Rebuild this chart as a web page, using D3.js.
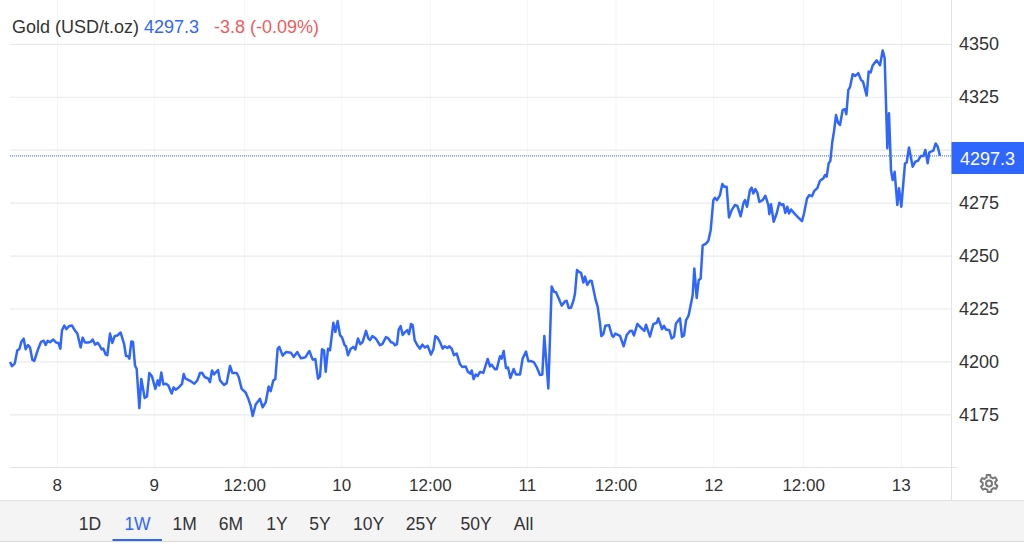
<!DOCTYPE html>
<html><head><meta charset="utf-8">
<script src="https://cdnjs.cloudflare.com/ajax/libs/d3/7.8.5/d3.min.js"></script>
<style>html,body{margin:0;padding:0;background:#fff;overflow:hidden}svg{display:block}text{font-family:"Liberation Sans",Arial,sans-serif}</style>
</head><body><svg id="c" width="1024" height="546"></svg>
<script>
// time in trading ticks since the session start, and the gold price at each tick
const times = [30,36,44,52,58,64,71,77,84,90,97,103,113,123,131,137,143,150,160,168,175,181,186,193,199,208,216,226,232,242,248,255,265,272,278,285,293,298,305,310,317,322,330,337,344,352,362,372,378,384,388,394,399,405,410,418,424,434,441,448,456,466,473,478,484,490,498,505,515,521,527,535,546,551,556,570,583,592,600,606,614,625,630,636,642,654,660,672,680,690,697,710,716,725,737,745,752,758,767,780,788,797,806,812,820,826,833,838,848,858,873,881,892,903,916,928,938,946,954,960,966,972,977,984,990,
1000,1006,1013,1020,1026,1034,1038,1044,1052,1060,1066,1074,1081,1088,1098,1105,1110,1117,1127,1140,1147,1158,1165,1173,1180,1185,1191,1196,1202,1208,1215,1222,1227,1233,1238,1244,1252,1260,1267,1275,1283,1293,1300,1306,1313,1321,1328,1334,1342,1348,1355,1362,1370,1380,1387,1397,1404,1412,1415,1421,1427,1433,1440,1450,1463,1470,1475,1485,1490,1500,1505,1511,1518,1524,1531,1541,1548,1560,1568,1578,1585,1592,1602,1610,1620,1627,1633,1645,1655,1662,1668,1676,1685,1695,1700,1706,1713,1721,1725,1731,1738,1743,1750,1755,1762,1770,1775,1787,1793,1800,1804,1810,1816,1827,1836,1840,1846,1860,1871,1880,1890,1896,1902,1912,1927,1933,1938,1950,1960,1970,1975,1986,1992,1998,2008,2015,2022,2028,2040,2046,2052,2058,2066,2078,2083,2090,2096,2102,2108,2118,2125,2132,2140,2145,2151,2160,2167,2173,2180,2187,2195,2205,2212,2222,2230,2235,2241,2250,2255,2260,2266,2272,2278,2288,2296,2305,2308,2313,2321,2330,2338,2345,2350,2356,2362,2367,2373,2385,2395,2406,2412,2421,2428,2436,2443,2452,2460,2470,2475,2480,2486,2491,2497,2502,2508,2514,2520,2528,2535,2539,2545,2550,2558,2566,2575,2583,2589,2600,2606,2612,2618,2630,2640,2648,2654,2662,2667,2673,2678,2684,2692,2697,2704,2715,2720,2727,2738,2746,2754,2762,2770,2776,2783,2788,2800,2807,2813,2820];
const prices = [4200,4198,4199.2,4205.5,4206,4209.5,4211,4206,4208,4206.8,4201,4200.5,4205.5,4209.5,4210,4208,4210,4209.3,4210.6,4209.2,4209,4206.3,4215,4217.2,4215.5,4217,4217.2,4214.6,4213.4,4206.8,4211.5,4209.2,4209.2,4209.5,4210.6,4208.2,4209,4208,4205.9,4206.3,4203.5,4203.2,4213.4,4209,4212.2,4212.5,4213.9,4208.7,4202.8,4202.7,4201.6,4209.7,4209.5,4198.3,4196.8,4178.2,4192,4183,4183.7,4194.8,4193.2,4187.3,4191.3,4188.9,4195,4189.4,4189.7,4188.9,4185.1,4188,4186.9,4187.8,4189.6,4194.3,4192.2,4191.1,4189.7,4191.3,4194.8,4194.9,4192.9,4192.1,4190.5,4196,4194.1,4196.2,4191.3,4189.1,4190,4198.1,4194.8,4194.8,4192.9,4187.3,4185.6,4182.6,4179.4,4174.5,4179.9,4182.6,4178.6,4180.9,4188.4,4186.2,4191.3,4192,4206.3,4207.1,4203,4204.7,4204.3,4202.4,4204.7,4201.7,4202.2,4205.2,4201.1,4201.4,4192.1,4193.2,4206,4205.5,4195.3,4206.2,4205.5,
4218.5,4214.2,4219.3,4212.7,4211.6,4207.9,4207.4,4203.2,4206.2,4207.1,4205.9,4211.1,4208.4,4209.5,4214.7,4211.1,4210.3,4212.2,4211.1,4207.9,4208.4,4211.7,4211.1,4209.3,4209,4207.9,4208.4,4215.3,4216.9,4212.7,4214.1,4215,4213.1,4217.9,4217.4,4210.3,4207.9,4206.3,4208.2,4206.8,4207.6,4203.5,4205.9,4212.2,4211.4,4209,4206.3,4207.4,4206.6,4207.4,4206.3,4203.2,4204,4198.9,4197.6,4197.9,4195.3,4194.5,4196,4191.9,4194.1,4193.4,4195.3,4194.9,4201.4,4197.9,4198.7,4196.5,4196.5,4202.7,4201.6,4205.2,4197.1,4197.4,4192.4,4196.7,4194.1,4194.1,4201.6,4204.9,4200.3,4200.5,4199.8,4197.6,4193.8,4194.1,4212.3,4187.5,4235.6,4233.1,4232.9,4230.1,4226.6,4228.6,4228.9,4225.5,4225.6,4229.3,4232.4,4243.4,4242.4,4242.2,4237.5,4240.3,4236.4,4238.4,4238.2,4229.3,4226.1,4218.2,4212.2,4213.1,4217.1,4217.4,4212.5,4211.9,4213.4,4212.3,4207.4,4212.7,4214.6,4214.7,4212.5,4218,4215.5,4214.7,4217.6,4212,4217.9,4218.5,4220.6,4215.5,4217.1,4215.3,4215,4211.1,4211.9,4218.2,4220.6,4211.9,4212.5,4219.6,4222,4231.5,4244.1,4230.2,4238.6,4239.4,4255.1,4255.9,4257.2,4262.2,4276.4,4277.5,4276.4,4278.8,4284,4282.7,4282.7,4268.2,4271.7,4274.1,4273.7,4268.8,4274.8,4276.4,4273.3,4281.2,4282.3,4279.6,4281.6,4280,4275.6,4276.4,4278.5,4274.1,4269.8,4274.5,4266.2,4270.1,4275.2,4274.1,4274.5,4270.4,4273.3,4270.1,4272,4269.8,4268.2,4266.5,4270.1,4277.2,4278.8,4278.3,4280.8,4282.1,4285.6,4286.7,4288.2,4287.5,4293.8,4294.9,4304,4308.8,4316.6,4313,4311.9,4319,4319.3,4317,4328.5,4329.7,4335.9,4335.1,4336.4,4333.2,4332.4,4325.8,4337.1,4336.7,4340,4342.4,4340.1,4347.1,4343.5,4300.9,4317.4,4290.6,4285.9,4289.8,4274.1,4282,4273.3,4293.8,4294.1,4301.3,4292.2,4294.6,4295,4297.2,4297.2,4300.1,4293.8,4299,4299.8,4303.2,4301.7,4297.4];

const xTickTimes = [172,463,734,1025,1291,1582,1848,2141,2411,2704];
const xTickLabels = ["8","9","12:00","10","12:00","11","12:00","12","12:00","13"];
const yTicks = [4175,4200,4225,4250,4275,4300,4325,4350];
const yTickLabels = [4175,4200,4225,4250,4275,null,4325,4350];
const lastPrice = 4297.3;
const titleName = "Gold (USD/t.oz)", titlePrice = "4297.3", titleChange = "-3.8 (-0.09%)";
const ranges = ["1D","1W","1M","6M","1Y","5Y","10Y","25Y","50Y","All"];
const rangeCenters = [90,137.5,184.6,231,277,320,368.6,421.4,476,523.6];

const blue = "#2f66ff", gridH = "#e9eaec", gridV = "#f2f5f7", axisC = "#e3e3e5", textC = "#333";
const left = 10, right = 951, plotBottom = 467;
const svg = d3.select("#c");
const x = d3.scaleLinear().domain([30,2820]).range([10,940]);
const y = d3.scaleLinear().domain([4175,4350]).range([414.9,44.3]);

// vertical gridlines
svg.append("g").selectAll("line").data(xTickTimes).join("line")
  .attr("x1",d=>x(d)).attr("x2",d=>x(d)).attr("y1",0).attr("y2",plotBottom)
  .attr("stroke",gridV).attr("stroke-width",1);
// horizontal gridlines
svg.append("g").selectAll("line").data(yTicks).join("line")
  .attr("x1",left).attr("x2",right).attr("y1",d=>y(d)).attr("y2",d=>y(d))
  .attr("stroke",gridH).attr("stroke-width",1.2);

// band
svg.append("rect").attr("x",0).attr("y",500.5).attr("width",1024).attr("height",40.5).attr("fill","#f4f4f4");
svg.append("line").attr("x1",0).attr("x2",1024).attr("y1",500.5).attr("y2",500.5).attr("stroke","#e2e2e2");
svg.append("line").attr("x1",0).attr("x2",1024).attr("y1",541.5).attr("y2",541.5).attr("stroke","#d9d9d9");

// axes frame
svg.append("line").attr("x1",951.5).attr("x2",951.5).attr("y1",0).attr("y2",500).attr("stroke",axisC);
svg.append("line").attr("x1",left).attr("x2",957).attr("y1",467.5).attr("y2",467.5).attr("stroke",axisC);

// last price dotted line
svg.append("line").attr("x1",left).attr("x2",right).attr("y1",y(lastPrice)).attr("y2",y(lastPrice))
  .attr("stroke",blue).attr("stroke-width",1).attr("stroke-dasharray","1 1");

// series
const line = d3.line().x((d,i)=>x(times[i])).y(d=>y(d));
svg.append("path").datum(prices).attr("d",line).attr("fill","none")
  .attr("stroke",blue).attr("stroke-width",2.5).attr("stroke-linejoin","round");

// y labels
svg.append("g").selectAll("text").data(yTickLabels.filter(d=>d!==null)).join("text")
  .attr("x",959).attr("y",d=>y(d)-0.5).attr("dy","0.35em").attr("font-size",18).attr("fill",textC).text(d=>d);
// last price tag
svg.append("rect").attr("x",951.5).attr("y",142).attr("width",72.5).attr("height",32).attr("fill",blue);
svg.append("text").attr("x",960).attr("y",158.5).attr("dy","0.36em").attr("font-size",18).attr("fill","#fff").text(lastPrice);

// x labels
svg.append("g").selectAll("text").data(xTickLabels).join("text")
  .attr("x",(d,i)=>x(xTickTimes[i])).attr("y",485).attr("dy","0.35em").attr("text-anchor","middle")
  .attr("font-size",17).attr("fill",textC).text(d=>d);

// title
const t = svg.append("text").attr("x",12).attr("y",33).attr("font-size",18);
t.append("tspan").attr("fill",textC).text(titleName);
t.append("tspan").attr("x",144).attr("fill",blue).text(titlePrice);
t.append("tspan").attr("x",214).attr("fill","#f15b5b").text(titleChange);

// range tabs
svg.append("g").selectAll("text").data(ranges).join("text")
  .attr("x",(d,i)=>rangeCenters[i]).attr("y",524).attr("dy","0.35em").attr("text-anchor","middle")
  .attr("font-size",17.5).attr("fill",d=>d==="1W"?blue:textC).text(d=>d);
svg.append("rect").attr("x",112.5).attr("y",539).attr("width",49.5).attr("height",2).attr("fill",blue);

// settings gear
const gearRadii = d3.range(48).map(i=>[i/48*2*Math.PI, (Math.floor((i+2)/4)%2===0)?8.6:6.4]);
const gear = svg.append("g").attr("transform","translate(989,483.5)").attr("fill","none").attr("stroke","#777").attr("stroke-width",2);
gear.append("path").attr("d",d3.lineRadial().curve(d3.curveLinearClosed)(gearRadii));
gear.append("circle").attr("r",3);
</script></body></html>
